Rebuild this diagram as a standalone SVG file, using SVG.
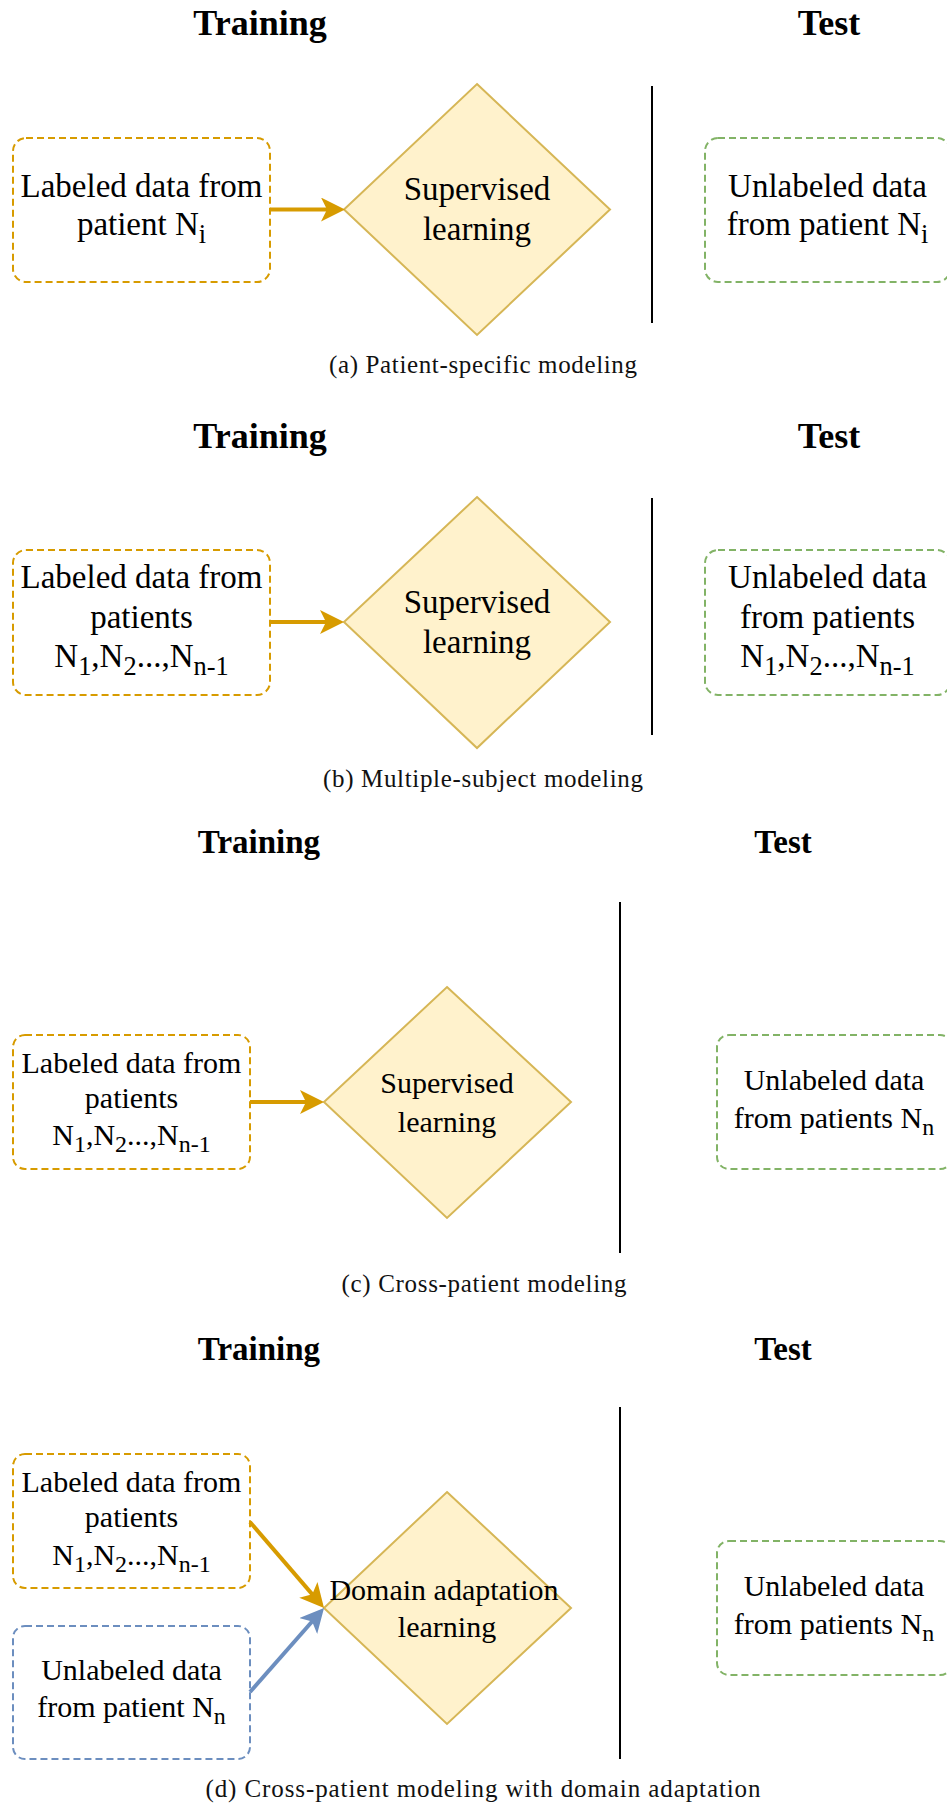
<svg xmlns="http://www.w3.org/2000/svg" width="947" height="1804" viewBox="0 0 947 1804">
<style>
.title{font-family:"Liberation Serif","Times New Roman",serif;font-weight:bold;text-anchor:middle;fill:#000}
.t36{font-size:36px}
.t33{font-size:33px}
.lbl{font-family:"Liberation Serif","Times New Roman",serif;text-anchor:middle;fill:#000}
.l33{font-size:33px}
.l30{font-size:30px}
.cap{font-family:"Liberation Serif","Times New Roman",serif;font-size:25px;text-anchor:middle;fill:#111}
.orange{fill:#fff;stroke:#d79b00;stroke-width:2;stroke-dasharray:7 4}
.green{fill:#fff;stroke:#82b366;stroke-width:2;stroke-dasharray:7 4}
.blue{fill:#fff;stroke:#6c8ebf;stroke-width:2;stroke-dasharray:7 4}
.dia{fill:#fff2cc;stroke:#d6b656;stroke-width:2}
.sep{stroke:#000;stroke-width:2}
.ao{stroke:#d79b00;stroke-width:4;fill:none;marker-end:url(#mo)}
.ab{stroke:#6c8ebf;stroke-width:4;fill:none;marker-end:url(#mb)}
</style>
<defs>
<marker id="mo" viewBox="0 0 24 24" refX="12" refY="12" markerWidth="24" markerHeight="24" markerUnits="userSpaceOnUse" orient="auto">
<path d="M0,0 L24,12 L0,24 L6,12 Z" fill="#d79b00"/>
</marker>
<marker id="mb" viewBox="0 0 24 24" refX="12" refY="12" markerWidth="24" markerHeight="24" markerUnits="userSpaceOnUse" orient="auto">
<path d="M0,0 L24,12 L0,24 L6,12 Z" fill="#6c8ebf"/>
</marker>
</defs>

<!-- (a) -->
<g id="a-titles">
<text class="title t36" x="260" y="35">Training</text>
<text class="title t36" x="829" y="35">Test</text>
</g>
<g id="a-labeled">
<rect class="orange" x="13" y="138" width="257" height="144" rx="13"/>
<text class="lbl l33" x="141.5" y="197">Labeled data from</text>
<text class="lbl l33" x="141.5" y="235">patient N<tspan font-size="0.8em" dy="8">i</tspan></text>
</g>
<g id="a-supervised">
<polygon class="dia" points="477,84 610,209.5 477,335 344,209.5"/>
<text class="lbl l33" x="477" y="200">Supervised</text>
<text class="lbl l33" x="477" y="240">learning</text>
</g>
<g id="a-sep"><line class="sep" x1="652" y1="86" x2="652" y2="323"/></g>
<g id="a-unlabeled">
<rect class="green" x="705" y="138" width="245" height="144" rx="13"/>
<text class="lbl l33" x="827.5" y="197">Unlabeled data</text>
<text class="lbl l33" x="827.5" y="235">from patient N<tspan font-size="0.8em" dy="8">i</tspan></text>
</g>
<text class="cap" x="483" y="373" textLength="308" lengthAdjust="spacing">(a) Patient-specific modeling</text>

<!-- (b) -->
<g id="b-titles">
<text class="title t36" x="260" y="448">Training</text>
<text class="title t36" x="829" y="448">Test</text>
</g>
<g id="b-labeled">
<rect class="orange" x="13" y="550" width="257" height="145" rx="13"/>
<text class="lbl l33" x="141.5" y="588">Labeled data from</text>
<text class="lbl l33" x="141.5" y="628">patients</text>
<text class="lbl l33" x="141.5" y="667">N<tspan font-size="0.8em" dy="8">1</tspan><tspan dy="-8">,N</tspan><tspan font-size="0.8em" dy="8">2</tspan><tspan dy="-8">...,N</tspan><tspan font-size="0.8em" dy="8">n-1</tspan></text>
</g>
<g id="b-supervised">
<polygon class="dia" points="477,497 610,622 477,748 344,622"/>
<text class="lbl l33" x="477" y="613">Supervised</text>
<text class="lbl l33" x="477" y="653">learning</text>
</g>
<g id="b-sep"><line class="sep" x1="652" y1="498" x2="652" y2="735"/></g>
<g id="b-unlabeled">
<rect class="green" x="705" y="550" width="245" height="145" rx="13"/>
<text class="lbl l33" x="827.5" y="588">Unlabeled data</text>
<text class="lbl l33" x="827.5" y="628">from patients</text>
<text class="lbl l33" x="827.5" y="667">N<tspan font-size="0.8em" dy="8">1</tspan><tspan dy="-8">,N</tspan><tspan font-size="0.8em" dy="8">2</tspan><tspan dy="-8">...,N</tspan><tspan font-size="0.8em" dy="8">n-1</tspan></text>
</g>
<text class="cap" x="483" y="787" textLength="320" lengthAdjust="spacing">(b) Multiple-subject modeling</text>

<!-- (c) -->
<g id="c-titles">
<text class="title t33" x="259" y="853">Training</text>
<text class="title t33" x="783" y="853">Test</text>
</g>
<g id="c-labeled">
<rect class="orange" x="13" y="1035" width="237" height="134" rx="12"/>
<text class="lbl l30" x="131.5" y="1073">Labeled data from</text>
<text class="lbl l30" x="131.5" y="1108">patients</text>
<text class="lbl l30" x="131.5" y="1145">N<tspan font-size="0.8em" dy="7">1</tspan><tspan dy="-7">,N</tspan><tspan font-size="0.8em" dy="7">2</tspan><tspan dy="-7">...,N</tspan><tspan font-size="0.8em" dy="7">n-1</tspan></text>
</g>
<g id="c-supervised">
<polygon class="dia" points="447,987 571,1102 447,1218 324,1102"/>
<text class="lbl l30" x="447" y="1093">Supervised</text>
<text class="lbl l30" x="447" y="1132">learning</text>
</g>
<g id="c-sep"><line class="sep" x1="620" y1="902" x2="620" y2="1253"/></g>
<g id="c-unlabeled">
<rect class="green" x="717" y="1035" width="235" height="134" rx="12"/>
<text class="lbl l30" x="834" y="1090">Unlabeled data</text>
<text class="lbl l30" x="834" y="1128">from patients N<tspan font-size="0.8em" dy="7">n</tspan></text>
</g>
<text class="cap" x="484" y="1292" textLength="285" lengthAdjust="spacing">(c) Cross-patient modeling</text>

<!-- (d) -->
<g id="d-titles">
<text class="title t33" x="259" y="1360">Training</text>
<text class="title t33" x="783" y="1360">Test</text>
</g>
<g id="d-labeled">
<rect class="orange" x="13" y="1454" width="237" height="134" rx="12"/>
<text class="lbl l30" x="131.5" y="1492">Labeled data from</text>
<text class="lbl l30" x="131.5" y="1527">patients</text>
<text class="lbl l30" x="131.5" y="1565">N<tspan font-size="0.8em" dy="7">1</tspan><tspan dy="-7">,N</tspan><tspan font-size="0.8em" dy="7">2</tspan><tspan dy="-7">...,N</tspan><tspan font-size="0.8em" dy="7">n-1</tspan></text>
</g>
<g id="d-unlabeled-train">
<rect class="blue" x="13" y="1626" width="237" height="133" rx="12"/>
<text class="lbl l30" x="131.5" y="1680">Unlabeled data</text>
<text class="lbl l30" x="131.5" y="1717">from patient N<tspan font-size="0.8em" dy="7">n</tspan></text>
</g>
<g id="d-domain">
<polygon class="dia" points="447,1492 571,1608 447,1724 324,1608"/>
<text class="lbl l30" x="444" y="1600">Domain adaptation</text>
<text class="lbl l30" x="447" y="1637">learning</text>
</g>
<g id="d-sep"><line class="sep" x1="620" y1="1407" x2="620" y2="1759"/></g>
<g id="d-unlabeled-test">
<rect class="green" x="717" y="1541" width="235" height="134" rx="12"/>
<text class="lbl l30" x="834" y="1596">Unlabeled data</text>
<text class="lbl l30" x="834" y="1634">from patients N<tspan font-size="0.8em" dy="7">n</tspan></text>
</g>
<text class="cap" x="483" y="1797" textLength="555" lengthAdjust="spacing">(d) Cross-patient modeling with domain adaptation</text>

<g id="connectors">
<line class="ao" x1="270" y1="209.5" x2="333" y2="209.5"/>
<line class="ao" x1="270" y1="622" x2="332" y2="622"/>
<line class="ao" x1="250" y1="1102" x2="312" y2="1102"/>
<line class="ao" x1="250" y1="1522" x2="316.2" y2="1598.9"/>
<line class="ab" x1="250" y1="1692" x2="316.1" y2="1617"/>
</g>
</svg>
